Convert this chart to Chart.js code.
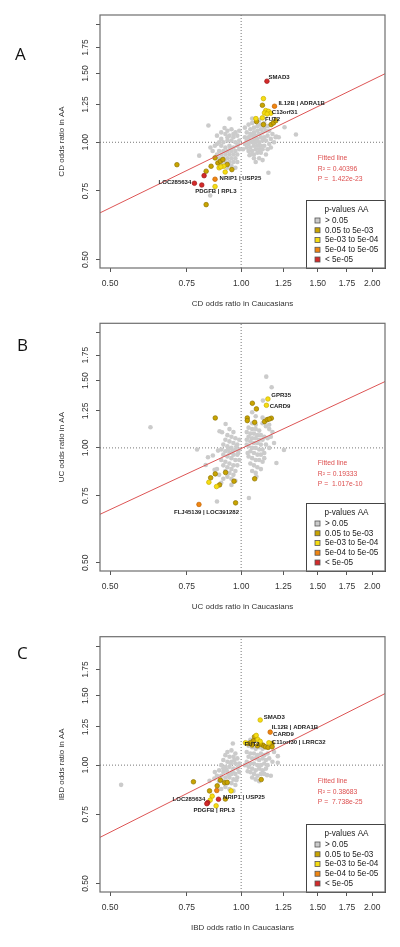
<!DOCTYPE html>
<html>
<head>
<meta charset="utf-8">
<script src="https://cdn.jsdelivr.net/npm/chart.js@4.4.1/dist/chart.umd.min.js"></script>
<style>
  body { margin: 0; background: #fff; }
  #page { position: relative; width: 400px; height: 947px; overflow: hidden; }
  canvas { position: absolute; left: 0; }
  .tag { position: absolute; font-family: "Open Sans", sans-serif; font-size: 17px; color: #111; line-height: 23px; }
</style>
</head>
<body>
<div id="page">
  <canvas id="chartA" width="400" height="309" style="top:0px"></canvas>
  <canvas id="chartB" width="400" height="302" style="top:310px"></canvas>
  <canvas id="chartC" width="400" height="313" style="top:620px"></canvas>
  <div class="tag" style="left:15px;top:42px">A</div>
  <div class="tag" style="left:17px;top:333px">B</div>
  <div class="tag" style="left:17px;top:641px">C</div>
</div>
<script>
// axis ticks
const xTicks = [0.5, 0.75, 1, 1.25, 1.5, 1.75, 2];
const xTickLabels = ['0.50', '0.75', '1.00', '1.25', '1.50', '1.75', '2.00'];
const yTicks = [0.5, 0.75, 1, 1.25, 1.5, 1.75, 2];
const yTickLabels = ['0.50', '0.75', '1.00', '1.25', '1.50', '1.75', ''];

// p-value classes (legend)
const pCategories = ['> 0.05', '0.05 to 5e-03', '5e-03 to 5e-04', '5e-04 to 5e-05', '< 5e-05'];
const pColors = ['#cbcbcb', '#c9a400', '#f6dc12', '#f08510', '#d42a2a'];
const pEdges = ['#c2c2c2', '#8f7600', '#c9b000', '#c06000', '#9c1a1a'];

// ---------- panel A : CD ----------
const grayA = [
  [0.841,1.104],[0.940,1.150],[0.916,1.088],[0.930,1.070],[0.950,1.080],[0.970,1.060],[0.900,1.060],[0.880,1.040],[0.920,1.050],[0.940,1.040],
  [0.960,1.030],[0.980,1.040],[0.990,1.010],[0.970,1.000],[0.950,1.010],[0.930,1.010],[0.910,1.000],[0.890,1.000],[0.870,0.980],[0.900,0.980],
  [0.920,0.970],[0.940,0.980],[0.960,0.970],[0.980,0.980],[0.990,0.960],[0.970,0.950],[0.950,0.950],[0.930,0.950],[0.910,0.950],[0.890,0.950],
  [0.860,0.950],[0.880,0.930],[0.900,0.930],[0.920,0.930],[0.940,0.930],[0.960,0.930],[0.980,0.930],[0.970,0.910],[0.950,0.910],[0.930,0.910],
  [0.910,0.910],[0.890,0.910],[0.940,0.890],[0.960,0.890],[0.980,0.890],[0.920,0.890],[0.950,0.870],[0.970,0.860],[0.930,0.860],[0.900,0.880],
  [0.801,0.924],[0.849,0.730],[0.850,0.970],[0.880,0.990],[0.930,1.030],[0.960,1.050],[0.990,1.070],[0.900,1.020],[0.985,0.990],[0.945,0.965],
  [1.020,1.090],[1.040,1.110],[1.060,1.120],[1.080,1.130],[1.100,1.140],[1.050,1.080],[1.070,1.090],[1.090,1.100],[1.110,1.110],[1.130,1.120],
  [1.030,1.060],[1.050,1.050],[1.070,1.060],[1.090,1.070],[1.110,1.080],[1.130,1.090],[1.150,1.100],[1.020,1.030],[1.040,1.030],[1.060,1.040],
  [1.080,1.040],[1.100,1.050],[1.120,1.060],[1.140,1.070],[1.160,1.070],[1.030,1.010],[1.050,1.010],[1.070,1.020],[1.090,1.020],[1.110,1.030],
  [1.130,1.030],[1.150,1.040],[1.180,1.050],[1.020,0.990],[1.040,0.990],[1.060,1.000],[1.080,1.000],[1.100,1.000],[1.120,1.010],[1.140,1.010],
  [1.170,1.020],[1.200,1.030],[1.030,0.970],[1.050,0.970],[1.070,0.980],[1.090,0.980],[1.110,0.980],[1.130,0.980],[1.160,0.990],[1.040,0.950],
  [1.060,0.950],[1.080,0.960],[1.100,0.960],[1.120,0.960],[1.150,0.960],[1.050,0.930],[1.070,0.930],[1.090,0.940],[1.110,0.940],[1.140,0.930],
  [1.070,0.910],[1.100,0.910],[1.045,0.926],[1.120,0.900],[1.010,0.960],[1.220,1.030],[1.190,1.000],[1.170,0.970],[1.258,1.093],[1.336,1.047],
  [1.155,0.835],[1.060,1.150],[1.204,1.034],[1.080,0.890]
];
const oliveA = [
  [0.712,0.876],[0.871,0.912],[0.884,0.885],[0.896,0.894],[0.908,0.903],[0.929,0.877],[0.952,0.851],[0.853,0.868],
  [0.831,0.843],[0.831,0.692],[1.119,1.244],[1.125,1.110],[1.172,1.110],[1.186,1.121],[1.201,1.136],[1.085,1.130]
];
const yellowA = [
  [1.125,1.294],[1.139,1.206],[1.156,1.200],[1.131,1.189],[1.170,1.187],[1.147,1.182],[1.081,1.150],[1.119,1.155],
  [0.912,0.868],[0.890,0.860],[0.919,0.839],[0.871,0.770],[0.898,0.865]
];
const orangeA = [[1.193,1.237],[0.871,0.804]];
const redA = [[1.146,1.434],[0.822,0.821],[0.781,0.785],[0.812,0.777]];
const genesA = [
  ['SMAD3', 1.156, 1.468, 'left'], ['IL12B | ADRA1B', 1.218, 1.259, 'left'], ['C13orf31', 1.176, 1.194, 'left'],
  ['FUT2', 1.135, 1.143, 'left'], ['NRIP1 | USP25', 0.892, 0.807, 'left'], ['LOC285634', 0.768, 0.788, 'right'],
  ['PDGFB | RPL3', 0.784, 0.749, 'left']
];
const statsA = ['Fitted line', 'R\u00b2 = 0.40396', 'P =  1.422e-23'];
const fitA = [-0.010, 0.545]; // intercept, slope of log(AA) ~ log(Caucasian)

// ---------- panel B : UC ----------
const grayB = [
  [0.619,1.133],[0.792,0.990],[0.839,0.945],[0.861,0.955],[0.885,0.984],[0.829,0.902],[0.869,0.876],[0.892,1.106],[0.921,1.155],[0.904,1.099],
  [0.880,0.724],[0.940,1.120],[0.960,1.100],[0.930,1.080],[0.950,1.070],[0.970,1.060],[0.990,1.050],[0.920,1.050],[0.940,1.040],[0.960,1.030],
  [0.980,1.020],[0.910,1.020],[0.930,1.010],[0.950,1.000],[0.970,0.990],[0.990,0.990],[0.900,0.990],[0.920,0.980],[0.940,0.970],[0.960,0.960],
  [0.980,0.960],[0.910,0.960],[0.930,0.950],[0.950,0.940],[0.970,0.930],[0.990,0.930],[0.900,0.930],[0.920,0.920],[0.940,0.910],[0.960,0.900],
  [0.980,0.900],[0.910,0.900],[0.930,0.890],[0.950,0.880],[0.970,0.870],[0.920,0.870],[0.940,0.860],[0.960,0.850],[0.930,0.840],[0.950,0.830],
  [0.970,0.820],[0.910,0.830],[0.890,0.850],[0.880,0.880],[0.900,0.810],[0.950,0.800],[0.985,0.970],[0.975,1.010],[0.955,0.980],[0.935,0.990],
  [1.142,1.537],[1.175,1.441],[1.122,1.330],[1.254,0.988],[1.205,0.913],[1.042,0.739],[1.084,0.841],[1.060,1.160],[1.080,1.150],[1.040,1.130],
  [1.060,1.120],[1.080,1.120],[1.100,1.110],[1.030,1.100],[1.050,1.090],[1.070,1.090],[1.090,1.080],[1.110,1.080],[1.130,1.070],[1.040,1.070],
  [1.060,1.060],[1.080,1.060],[1.100,1.050],[1.120,1.050],[1.150,1.060],[1.170,1.070],[1.030,1.050],[1.050,1.040],[1.070,1.030],[1.090,1.030],
  [1.110,1.020],[1.140,1.020],[1.040,1.010],[1.060,1.000],[1.080,1.000],[1.100,0.990],[1.120,0.990],[1.160,1.000],[1.050,0.980],[1.070,0.970],
  [1.090,0.960],[1.110,0.960],[1.130,0.970],[1.040,0.950],[1.060,0.940],[1.080,0.930],[1.100,0.930],[1.120,0.920],[1.050,0.910],[1.070,0.900],
  [1.090,0.890],[1.110,0.880],[1.060,0.870],[1.080,0.860],[1.140,1.140],[1.160,1.120],[1.180,1.100],[1.120,1.160],[1.190,1.030],[1.130,0.940],
  [1.030,1.020],[1.035,0.970],[1.060,1.240],[1.080,1.210],[1.120,1.200],[1.160,1.150]
];
const oliveB = [
  [0.872,1.198],[1.061,1.309],[1.084,1.265],[1.033,1.198],[1.033,1.179],[1.074,1.167],[1.132,1.172],[1.148,1.186],
  [1.173,1.196],[1.160,1.190],[0.872,0.855],[0.851,0.835],[0.921,0.862],[0.892,0.800],[0.963,0.818],[1.074,0.830],[0.971,0.718]
];
const yellowB = [[1.152,1.343],[1.143,1.293],[0.843,0.813],[0.878,0.792]];
const orangeB = [[0.800,0.711]];
const redB = [];
const genesB = [
  ['GPR35', 1.173, 1.371, 'left'], ['CARD9', 1.163, 1.283, 'left'], ['FLJ45139 | LOC391282', 0.701, 0.677, 'left']
];
const statsB = ['Fitted line', 'R\u00b2 = 0.19333', 'P =  1.017e-10'];
const fitB = [-0.004, 0.531];

// ---------- panel C : IBD ----------
const grayC = [
  [0.530,0.891],[0.957,1.135],[0.846,0.912],[0.868,0.925],[0.930,1.080],[0.950,1.090],[0.970,1.070],[0.920,1.060],[0.940,1.050],[0.960,1.050],
  [0.980,1.040],[0.910,1.030],[0.930,1.020],[0.950,1.020],[0.970,1.010],[0.990,1.010],[0.900,1.000],[0.920,0.990],[0.940,0.990],[0.960,0.980],
  [0.980,0.980],[0.890,0.970],[0.910,0.960],[0.930,0.960],[0.950,0.950],[0.970,0.950],[0.990,0.960],[0.880,0.940],[0.900,0.940],[0.920,0.930],
  [0.940,0.930],[0.960,0.920],[0.980,0.930],[0.890,0.910],[0.910,0.910],[0.930,0.900],[0.950,0.900],[0.970,0.890],[0.920,0.880],[0.940,0.870],
  [0.960,0.860],[0.900,0.870],[0.870,0.960],[0.985,0.990],[0.965,1.030],[0.945,1.010],[0.925,0.975],[0.955,0.965],[0.935,0.945],[0.910,0.980],
  [0.975,0.915],
  [1.147,0.943],[1.214,1.054],[1.214,1.014],[1.050,1.160],[1.070,1.150],[1.090,1.160],[1.040,1.120],[1.060,1.110],[1.080,1.100],[1.100,1.110],
  [1.120,1.100],[1.030,1.080],[1.050,1.070],[1.070,1.070],[1.090,1.060],[1.110,1.070],[1.130,1.060],[1.150,1.070],[1.040,1.050],[1.060,1.040],
  [1.080,1.040],[1.100,1.030],[1.120,1.040],[1.140,1.030],[1.160,1.040],[1.030,1.020],[1.050,1.010],[1.070,1.010],[1.090,1.000],[1.110,1.000],
  [1.130,1.010],[1.150,1.000],[1.040,0.990],[1.060,0.980],[1.080,0.970],[1.100,0.980],[1.120,0.970],[1.140,0.980],[1.050,0.960],[1.070,0.950],
  [1.090,0.940],[1.110,0.950],[1.130,0.950],[1.060,0.930],[1.080,0.920],[1.100,0.910],[1.170,0.940],[1.180,1.020],[1.190,1.080],[1.020,1.000],
  [1.035,0.965],[1.110,1.130],[1.130,1.120]
];
const oliveC = [
  [0.777,0.907],[0.846,0.860],[0.881,0.886],[0.896,0.916],[0.916,0.902],[0.929,0.904],[0.920,0.820],[1.073,1.180],[1.067,1.153],[1.036,1.135],
  [1.050,1.140],[1.122,1.124],[1.137,1.113],[1.153,1.109],[1.178,1.135],[1.178,1.113],[1.106,1.131],[1.112,0.919],[1.090,1.120],[1.060,1.125]
];
const yellowC = [
  [1.106,1.302],[1.158,1.140],[1.083,1.190],[1.092,1.162],[1.106,1.149],[1.023,1.140],[0.948,0.860],[0.858,0.834],[0.849,0.815],[0.876,0.788]
];
const orangeC = [[1.166,1.213],[0.879,0.862]];
const redC = [[0.838,0.803],[0.834,0.798],[0.887,0.819]];
const genesC = [
  ['SMAD3', 1.127, 1.322, 'left'], ['IL12B | ADRA1B', 1.176, 1.245, 'left'], ['CARD9', 1.184, 1.197, 'left'],
  ['C11orf30 | LRRC32', 1.176, 1.140, 'left'], ['FUT2', 1.018, 1.131, 'left'], ['NRIP1 | USP25', 0.909, 0.829, 'left'],
  ['LOC285634', 0.827, 0.819, 'right'], ['PDGFB | RPL3', 0.777, 0.767, 'left']
];
const statsC = ['Fitted line', 'R\u00b2 = 0.38683', 'P =  7.738e-25'];
const fitC = [-0.006, 0.558];

// stats text anchor (data units)
const statsX = 1.5;
const statsY = [0.91, 0.855, 0.805];

const xMin = 0.474, xMax = 2.14, yMin = 0.476, yMax = 2.12;
const FONT = '"Liberation Sans", Arial, sans-serif';

const toPts = arr => arr.map(([x, y]) => ({ x: x, y: y }));

const decorPlugin = {
  id: 'decor',
  afterDatasetsDraw(chart, args, opts) {
    const ctx = chart.ctx;
    const xs = chart.scales.x, ys = chart.scales.y;
    ctx.save();
    // gene labels
    ctx.font = 'bold 6px ' + FONT;
    ctx.fillStyle = '#222';
    ctx.textBaseline = 'middle';
    opts.genes.forEach(([t, x, y, al]) => {
      ctx.textAlign = al;
      ctx.fillText(t, xs.getPixelForValue(x), ys.getPixelForValue(y));
    });
    // fit statistics
    ctx.font = '6.8px ' + FONT;
    ctx.fillStyle = '#dd4f4f';
    ctx.textAlign = 'left';
    opts.stats.forEach((t, i) => {
      ctx.fillText(t, xs.getPixelForValue(statsX), ys.getPixelForValue(statsY[i]));
    });
    ctx.restore();
  },
  afterDraw(chart) {
    const ctx = chart.ctx;
    const a = chart.chartArea;
    ctx.save();
    // legend box at bottom right
    const w = 79, h = 68;
    const lx = a.right - w, ly = a.bottom - h;
    ctx.fillStyle = '#fff';
    ctx.fillRect(lx, ly, w, h);
    ctx.strokeStyle = '#444';
    ctx.lineWidth = 1;
    ctx.strokeRect(lx + 0.5, ly + 0.5, w, h);
    ctx.fillStyle = '#222';
    ctx.textBaseline = 'middle';
    ctx.font = '8.2px ' + FONT;
    ctx.textAlign = 'center';
    ctx.fillText('p-values AA', lx + w / 2 + 1, ly + 9.5);
    ctx.textAlign = 'left';
    pCategories.forEach((lab, i) => {
      const y = ly + 20.5 + i * 9.75;
      ctx.fillStyle = pColors[i];
      ctx.fillRect(lx + 9, y - 2.5, 5, 5);
      ctx.strokeStyle = '#555';
      ctx.lineWidth = 0.8;
      ctx.strokeRect(lx + 9, y - 2.5, 5, 5);
      ctx.fillStyle = '#222';
      ctx.fillText(lab, lx + 19, y);
    });
    // plot frame
    ctx.strokeStyle = '#6e6e6e';
    ctx.lineWidth = 1.2;
    ctx.strokeRect(a.left, a.top, a.right - a.left, a.bottom - a.top);
    ctx.restore();
  }
};

function makePanel(id, cfg) {
  const fitLine = [xMin, xMax].map(x => ({ x: x, y: Math.exp(cfg.fit[0] + cfg.fit[1] * Math.log(x)) }));
  const groups = [cfg.gray, cfg.olive, cfg.yellow, cfg.orange, cfg.red];
  const pointSets = groups.map((g, i) => ({
    label: pCategories[i],
    data: toPts(g),
    backgroundColor: pColors[i],
    borderColor: pEdges[i],
    borderWidth: i === 0 ? 0 : 0.7,
    pointRadius: 2.3,
    order: 5 - i
  }));
  const dotted = { showLine: true, pointRadius: 0, borderColor: '#777', borderWidth: 1, borderDash: [1, 2], order: 10 };
  new Chart(document.getElementById(id), {
    type: 'scatter',
    data: {
      datasets: [
        { label: 'fit', data: fitLine, showLine: true, pointRadius: 0, borderColor: '#dd5555', borderWidth: 1, order: 0 },
        ...pointSets,
        Object.assign({ label: 'v', data: [{ x: 1, y: yMin }, { x: 1, y: yMax }] }, dotted),
        Object.assign({ label: 'h', data: [{ x: xMin, y: 1 }, { x: xMax, y: 1 }] }, dotted)
      ]
    },
    options: {
      responsive: false,
      animation: false,
      layout: { padding: { top: cfg.top, right: 15, bottom: 0, left: 0 } },
      plugins: {
        legend: { display: false },
        tooltip: { enabled: false },
        decor: { genes: cfg.genes, stats: cfg.stats }
      },
      scales: {
        x: {
          type: 'logarithmic',
          min: xMin, max: xMax, bounds: 'data',
          afterBuildTicks: s => { s.ticks = xTicks.map(v => ({ value: v })); },
          afterFit: s => { s.height = 41; },
          border: { display: false },
          grid: { drawOnChartArea: false, drawTicks: true, tickLength: 4, color: '#555' },
          ticks: {
            autoSkip: false, minRotation: 0, maxRotation: 0, padding: 7, color: '#333',
            font: { family: FONT, size: 8.5 },
            callback: (v, i) => xTickLabels[i]
          },
          title: { display: true, text: cfg.xTitle, color: '#333', font: { family: FONT, size: 8 }, padding: 0 }
        },
        y: {
          type: 'logarithmic',
          min: yMin, max: yMax, bounds: 'data',
          afterBuildTicks: s => { s.ticks = yTicks.map(v => ({ value: v })); },
          afterFit: s => { s.width = 100; },
          border: { display: false },
          grid: { drawOnChartArea: false, drawTicks: true, tickLength: 4, color: '#555' },
          ticks: {
            autoSkip: false, minRotation: 90, maxRotation: 90, crossAlign: 'center', padding: 2.5, color: '#333',
            font: { family: FONT, size: 8.5 },
            callback: (v, i) => yTickLabels[i]
          },
          title: { display: true, text: cfg.yTitle, color: '#333', font: { family: FONT, size: 8 }, padding: { top: 57, bottom: 0 } }
        }
      }
    },
    plugins: [decorPlugin]
  });
}

makePanel('chartA', {
  top: 15, gray: grayA, olive: oliveA, yellow: yellowA, orange: orangeA, red: redA,
  genes: genesA, stats: statsA, fit: fitA,
  xTitle: 'CD odds ratio in Caucasians', yTitle: 'CD odds ratio in AA'
});
makePanel('chartB', {
  top: 13.3, gray: grayB, olive: oliveB, yellow: yellowB, orange: orangeB, red: redB,
  genes: genesB, stats: statsB, fit: fitB,
  xTitle: 'UC odds ratio in Caucasians', yTitle: 'UC odds ratio in AA'
});
makePanel('chartC', {
  top: 16.7, gray: grayC, olive: oliveC, yellow: yellowC, orange: orangeC, red: redC,
  genes: genesC, stats: statsC, fit: fitC,
  xTitle: 'IBD odds ratio in Caucasians', yTitle: 'IBD odds ratio in AA'
});
</script>
</body>
</html>
